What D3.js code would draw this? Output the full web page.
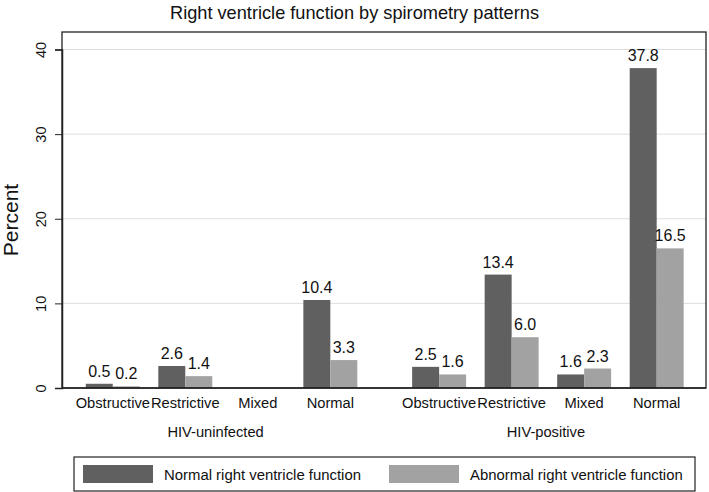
<!DOCTYPE html>
<html>
<head>
<meta charset="utf-8">
<script src="https://cdn.jsdelivr.net/npm/d3@7"></script>
<style>
  html, body { margin: 0; padding: 0; background: #fff; }
  svg { display: block; font-family: "Liberation Sans", Arial, sans-serif; }
</style>
</head>
<body>
<svg id="chart" width="709" height="492"></svg>
<script>
const title = "Right ventricle function by spirometry patterns";
const groups = ["HIV-uninfected", "HIV-positive"];
const categories = ["Obstructive", "Restrictive", "Mixed", "Normal"];
const seriesNames = ["Normal right ventricle function", "Abnormal right ventricle function"];
// values[group][category]
const normalRV = [[0.5, 2.6, null, 10.4], [2.5, 13.4, 1.6, 37.8]];
const abnormalRV = [[0.2, 1.4, null, 3.3], [1.6, 6.0, 2.3, 16.5]];
const yTicks = [0, 10, 20, 30, 40];
const yLabel = "Percent";

const colors = ["#606060", "#a2a2a2"];

const svg = d3.select("#chart");
const plot = {left: 62, right: 706, top: 32, bottom: 388};

const x = d3.scaleLinear().domain([-0.7, 8.18]).range([plot.left, plot.right]);
const y = d3.scaleLinear().domain([0, 40]).range([plot.bottom, 49.5]);
const barW = x(0.372) - x(0);
const slot = (g, i) => g * 4.5 + i;

// gridlines
svg.append("g").selectAll("line").data(yTicks.filter(d => d > 0)).join("line")
  .attr("x1", plot.left).attr("x2", plot.right)
  .attr("y1", d => y(d)).attr("y2", d => y(d))
  .attr("stroke", "#dedede").attr("stroke-width", 1);

// bars
const barData = [];
groups.forEach((g, gi) => categories.forEach((c, ci) => {
  [normalRV, abnormalRV].forEach((arr, si) => {
    const v = arr[gi][ci];
    if (v !== null) barData.push({gi, ci, si, v});
  });
}));

svg.append("g").selectAll("rect").data(barData).join("rect")
  .attr("x", d => d.si === 0 ? x(slot(d.gi, d.ci)) - barW : x(slot(d.gi, d.ci)))
  .attr("width", barW)
  .attr("y", d => y(d.v))
  .attr("height", d => y(0) - y(d.v))
  .attr("fill", d => colors[d.si]);

// value labels
svg.append("g").selectAll("text").data(barData).join("text")
  .attr("x", d => (d.si === 0 ? x(slot(d.gi, d.ci)) - barW / 2 : x(slot(d.gi, d.ci)) + barW / 2))
  .attr("y", d => y(d.v) - 7)
  .attr("text-anchor", "middle")
  .attr("font-size", "16px")
  .attr("fill", "#111")
  .text(d => d.v.toFixed(1));

// frame
svg.append("rect")
  .attr("x", plot.left).attr("y", plot.top)
  .attr("width", plot.right - plot.left).attr("height", plot.bottom - plot.top)
  .attr("fill", "none").attr("stroke", "#222").attr("stroke-width", 1.3);

// y axis
const yAxis = d3.axisLeft(y).tickValues(yTicks).tickSize(7).tickFormat(d3.format("d"));
const ya = svg.append("g").attr("transform", `translate(${plot.left},0)`).call(yAxis);
ya.select(".domain").attr("stroke", "#222").attr("stroke-width", 1.5);
ya.selectAll(".tick line").attr("stroke", "#222");
ya.selectAll(".tick text")
  .attr("font-size", "14.5px")
  .attr("font-family", "Liberation Sans, Arial, sans-serif")
  .attr("fill", "#111")
  .attr("x", null).attr("dy", null)
  .attr("text-anchor", "middle")
  .attr("transform", "translate(-16,0) rotate(-90)")
  .attr("y", 0)
  .attr("dy", "0");

// bottom axis line
svg.append("line").attr("x1", plot.left).attr("x2", plot.right)
  .attr("y1", plot.bottom).attr("y2", plot.bottom)
  .attr("stroke", "#222").attr("stroke-width", 1.6);

// category labels
const catData = [];
groups.forEach((g, gi) => categories.forEach((c, ci) => catData.push({gi, ci, c})));
svg.append("g").selectAll("text").data(catData).join("text")
  .attr("x", d => x(slot(d.gi, d.ci)))
  .attr("y", 408)
  .attr("text-anchor", "middle")
  .attr("font-size", "14.7px")
  .attr("fill", "#111")
  .text(d => d.c);

// group labels
svg.append("g").selectAll("text").data(groups).join("text")
  .attr("x", (d, gi) => x(slot(gi, 1.5)) - (gi === 0 ? 6 : 2))
  .attr("y", 437)
  .attr("text-anchor", "middle")
  .attr("font-size", "14.7px")
  .attr("fill", "#111")
  .text(d => d);

// y label
svg.append("text")
  .attr("transform", "translate(18,220) rotate(-90)")
  .attr("text-anchor", "middle")
  .attr("font-size", "21px")
  .attr("fill", "#111")
  .text(yLabel);

// title
svg.append("text")
  .attr("x", 354.5).attr("y", 19)
  .attr("text-anchor", "middle")
  .attr("font-size", "18.2px")
  .attr("fill", "#111")
  .text(title);

// legend
const lg = svg.append("g");
lg.append("rect").attr("x", 74).attr("y", 457).attr("width", 621).attr("height", 34)
  .attr("fill", "#fff").attr("stroke", "#222").attr("stroke-width", 1.2);
const legX = [83, 389];
seriesNames.forEach((s, i) => {
  lg.append("rect").attr("x", legX[i]).attr("y", 465).attr("width", 70).attr("height", 18)
    .attr("fill", colors[i]);
  lg.append("text").attr("x", legX[i] + 81).attr("y", 479.5)
    .attr("font-size", "14.9px").attr("fill", "#111").text(s);
});
</script>
</body>
</html>
